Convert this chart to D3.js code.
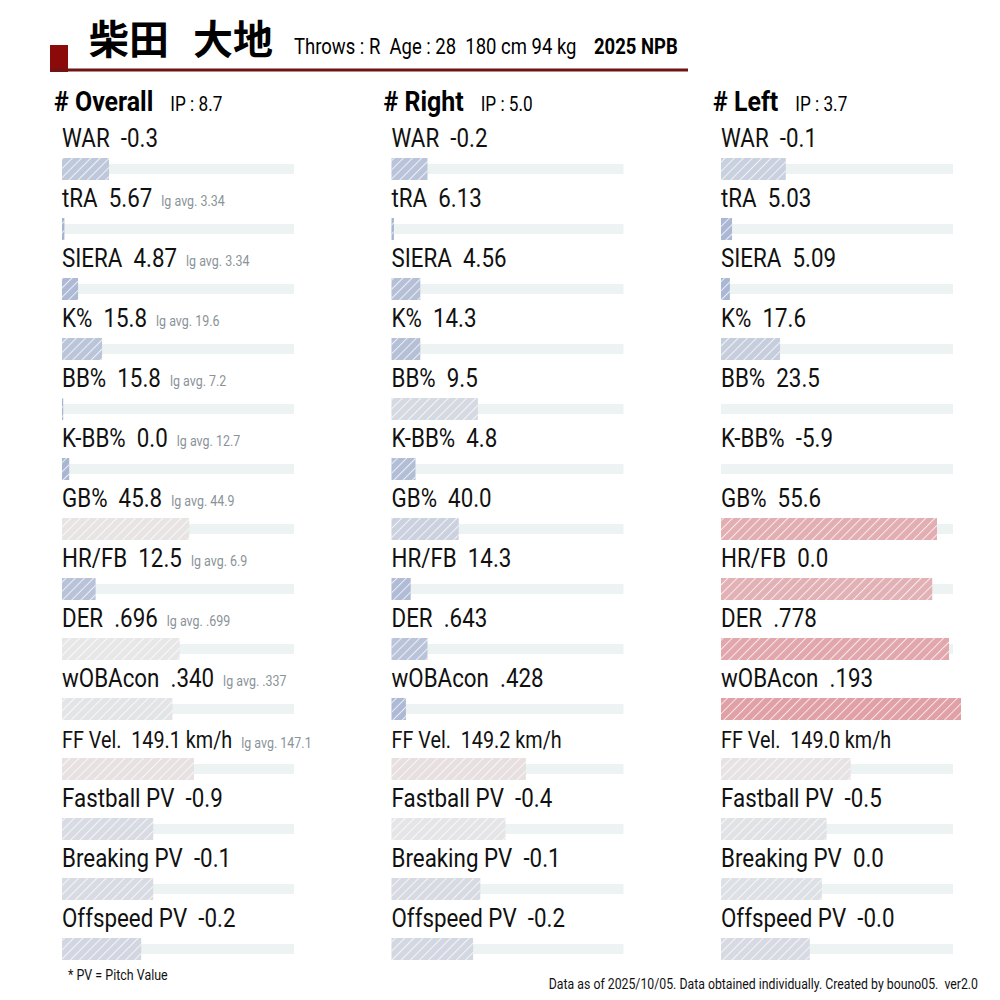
<!DOCTYPE html>
<html>
<head>
<meta charset="utf-8">
<script src="https://cdn.jsdelivr.net/npm/d3@7"></script>
<style>
  body { margin: 0; background: #fff; }
  text { font-family: Roboto, "Noto Sans", sans-serif; white-space: pre; }
</style>
</head>
<body>
<div id="chart"></div>
<script>
// ---- data ----
const metrics = ["WAR", "tRA", "SIERA", "K%", "BB%", "K-BB%", "GB%", "HR/FB", "DER", "wOBAcon", "FF Vel.", "Fastball PV", "Breaking PV", "Offspeed PV"];
const lgAvg = [null, "3.34", "3.34", "19.6", "7.2", "12.7", "44.9", "6.9", ".699", ".337", "147.1", null, null, null];

const overallValues = ["-0.3", "5.67", "4.87", "15.8", "15.8", "0.0", "45.8", "12.5", ".696", ".340", "149.1 km/h", "-0.9", "-0.1", "-0.2"];
const rightValues = ["-0.2", "6.13", "4.56", "14.3", "9.5", "4.8", "40.0", "14.3", ".643", ".428", "149.2 km/h", "-0.4", "-0.1", "-0.2"];
const leftValues = ["-0.1", "5.03", "5.09", "17.6", "23.5", "-5.9", "55.6", "0.0", ".778", ".193", "149.0 km/h", "-0.5", "0.0", "-0.0"];

// percentile ranks (bar lengths)
const overallPct = [19.6, 1, 6.7, 16.7, 0.5, 3, 53, 14, 49, 46, 55, 38, 38, 33];
const rightPct = [15, 1, 12, 12, 36, 10, 28, 8, 15, 6, 56, 47.5, 37, 34];
const leftPct = [27, 4.6, 3.7, 24.6, 0, 0, 90, 88, 95, 100, 54, 44, 42, 37];

const splits = ["Overall", "Right", "Left"];
const splitIP = ["8.7", "5.0", "3.7"];

const SX = 0.86; // condensed look

const svg = d3.select("#chart").append("svg")
    .attr("width", 1000)
    .attr("height", 1000);

const defs = svg.append("defs");
const pat = defs.append("pattern")
    .attr("id", "hatch")
    .attr("patternUnits", "userSpaceOnUse")
    .attr("width", 6.5)
    .attr("height", 6.5)
    .attr("patternTransform", "rotate(45)");
pat.append("line")
    .attr("x1", 0).attr("y1", 0).attr("x2", 0).attr("y2", 6.5)
    .attr("stroke", "white")
    .attr("stroke-width", 2)
    .attr("stroke-opacity", 0.75);

// condensed text helper
function ctext(parent, x, y, str, sx = SX) {
    return parent.append("text")
        .attr("transform", `translate(${x},${y}) scale(${sx},1)`)
        .text(str);
}

// ---- header ----
svg.append("rect").attr("x", 50).attr("y", 45).attr("width", 18).attr("height", 27).attr("fill", "#8b0b0b");
svg.append("rect").attr("x", 50).attr("y", 68.5).attr("width", 638).attr("height", 3).attr("fill", "#6e1414");

const title = svg.append("text")
    .attr("x", 89).attr("y", 54)
    .style("font-family", "'Noto Sans CJK JP', sans-serif")
    .style("font-weight", "bold")
    .style("font-size", "40px");
title.append("tspan").text("柴田");
title.append("tspan").attr("dx", 24).text("大地");

ctext(svg, 294, 54, "Throws : R  Age : 28  180 cm 94 kg").style("font-size", "21.5px");
ctext(svg, 594, 54, "2025 NPB").style("font-size", "21.5px").style("font-weight", "bold");

// ---- scales ----
const x = d3.scaleLinear().domain([0, 100]).range([0, 240]);
const yRow = d3.scaleLinear().domain([0, metrics.length - 1]).range([147, 147 + 60 * (metrics.length - 1)]);
const colX = d3.scalePoint().domain(splits).range([62, 721]);
const color = d3.scaleLinear().domain([0, 50, 100]).range(["#a5b3d2", "#e8e8e8", "#e0a0a5"]);

const trackW = 232, barH = 22, trackH = 10, barOff = 22;

const valueSets = [overallValues, rightValues, leftValues];
const pctSets = [overallPct, rightPct, leftPct];

splits.forEach((s, k) => {
    const cx = colX(s);
    const g = svg.append("g");

    const hdr = ctext(g, cx - 8, 111, "# " + s, 0.89).style("font-size", "28px").style("font-weight", "bold");
    const hw = hdr.node().getComputedTextLength() * 0.89;
    ctext(g, cx - 8 + hw + 17, 111, "IP : " + splitIP[k]).style("font-size", "20px");

    const rows = metrics.map((m, i) => ({ m, i, v: valueSets[k][i], p: pctSets[k][i], lg: lgAvg[i] }));

    // track
    g.selectAll("rect.track").data(rows).enter().append("rect")
        .attr("class", "track")
        .attr("x", cx)
        .attr("y", d => yRow(d.i) + barOff - trackH / 2)
        .attr("width", trackW)
        .attr("height", trackH)
        .attr("fill", "#edf2f3");

    // bars
    g.selectAll("rect.bar").data(rows).enter().append("rect")
        .attr("class", "bar")
        .attr("x", cx)
        .attr("y", d => yRow(d.i) + barOff - barH / 2)
        .attr("width", d => x(d.p))
        .attr("height", barH)
        .attr("fill", d => color(d.p));

    g.selectAll("rect.hatch").data(rows).enter().append("rect")
        .attr("class", "hatch")
        .attr("x", cx)
        .attr("y", d => yRow(d.i) + barOff - barH / 2)
        .attr("width", d => x(d.p))
        .attr("height", barH)
        .attr("fill", "url(#hatch)");

    // labels
    rows.forEach(d => {
        const fs = d.m === "FF Vel." ? 23 : 26;
        const t = ctext(g, cx, yRow(d.i) + (fs < 26 ? 1 : 0), d.m + "  " + d.v).style("font-size", fs + "px").attr("fill", "#111");
        if (k === 0 && d.lg) {
            const w = t.node().getComputedTextLength() * SX;
            ctext(g, cx + w + 9, yRow(d.i) - 1 + (fs < 26 ? 2 : 0), "lg avg. " + d.lg)
                .style("font-size", "14.5px")
                .attr("fill", "#8a9398");
        }
    });
});

// ---- footer ----
ctext(svg, 68, 980, "* PV = Pitch Value").style("font-size", "14.5px").attr("fill", "#111");
ctext(svg, 0, 989, "Data as of 2025/10/05. Data obtained individually. Created by bouno05.  ver2.0")
    .style("font-size", "14.3px").attr("fill", "#111")
    .each(function () {
        const w = this.getComputedTextLength() * SX;
        d3.select(this).attr("transform", `translate(${978 - w},989) scale(${SX},1)`);
    });
</script>
</body>
</html>
